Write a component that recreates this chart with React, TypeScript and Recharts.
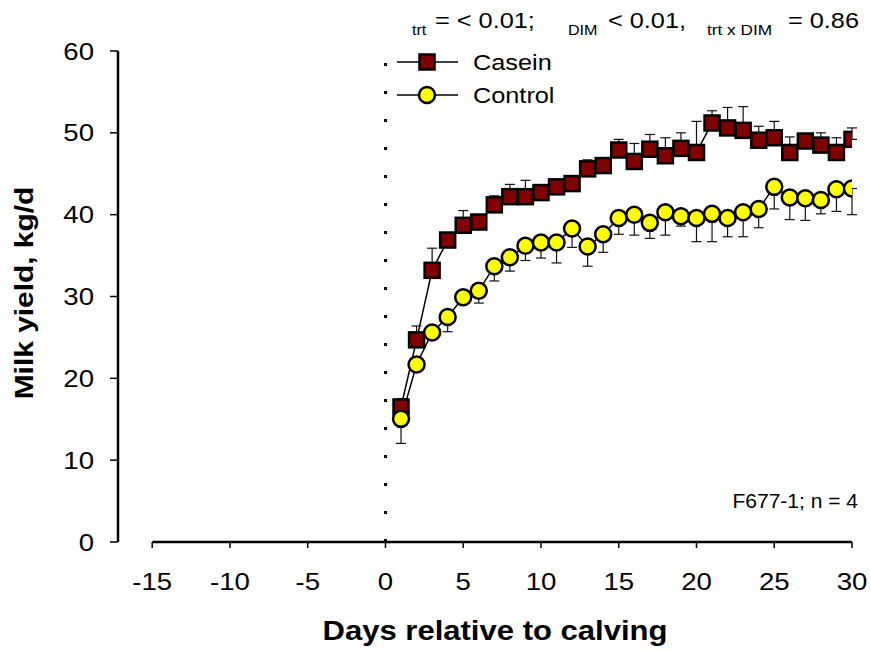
import React from 'react';
import {
  ComposedChart,
  Line,
  XAxis,
  YAxis,
  ErrorBar,
  ReferenceLine,
} from 'recharts';

// Días posparto y rendimiento de leche (kg/d)
const days = [
  1, 2, 3, 4, 5, 6, 7, 8, 9, 10, 11, 12, 13, 14, 15,
  16, 17, 18, 19, 20, 21, 22, 23, 24, 25, 26, 27, 28, 29, 30,
];
const casein = [
  16.5, 24.7, 33.2, 36.9, 38.7, 39.1, 41.2, 42.2, 42.2, 42.7, 43.4, 43.8, 45.6, 46.0, 47.9,
  46.5, 48.0, 47.2, 48.1, 47.6, 51.2, 50.6, 50.3, 49.1, 49.4, 47.6, 49.0, 48.5, 47.6, 49.2,
];
const caseinErr = [
  1.0, 1.7, 2.7, 0.5, 1.8, 0.5, 1.1, 1.5, 2.0, 0.3, 0.3, 0.3, 1.1, 0.3, 1.3,
  2.2, 1.8, 2.2, 1.9, 3.8, 1.5, 2.5, 2.9, 1.7, 2.0, 1.9, 0.5, 1.5, 1.8, 1.4,
];
const control = [
  15.05, 21.7, 25.6, 27.5, 29.9, 30.7, 33.7, 34.8, 36.2, 36.6, 36.6, 38.3, 36.1, 37.6, 39.6,
  40.0, 39.0, 40.3, 39.8, 39.6, 40.1, 39.6, 40.3, 40.7, 43.4, 42.1, 42.0, 41.8, 43.1, 43.2,
];
const controlErr = [
  3.0, 0.5, 0.5, 1.8, 0.5, 1.5, 1.8, 1.7, 1.8, 1.9, 2.5, 2.3, 2.4, 2.2, 2.0,
  2.5, 1.9, 2.8, 1.2, 2.9, 3.4, 2.3, 3.0, 2.3, 2.7, 2.7, 2.7, 1.7, 2.7, 3.2,
];
const xTicks = [-15, -10, -5, 0, 5, 10, 15, 20, 25, 30];
const yTicks = [0, 10, 20, 30, 40, 50, 60];

const chartData = days.map((day, i) => ({
  day,
  casein: casein[i],
  caseinBar: [0, caseinErr[i]],
  control: control[i],
  controlBar: [controlErr[i], 0],
}));

const FONT = "Arial, 'Liberation Sans', sans-serif";
const SX = 1.15; // el texto del original está algo ensanchado

const Txt = ({ x, y, size, bold = false, anchor = 'start', rotate = false, sx = SX, children }: any) => (
  <text
    transform={`translate(${x},${y})${rotate ? ' rotate(-90)' : ''} scale(${sx},1)`}
    fontSize={size}
    fontWeight={bold ? 'bold' : 'normal'}
    textAnchor={anchor}
    fontFamily={FONT}
    fill="#000"
  >
    {children}
  </text>
);

const XTick = ({ x, y, payload }: any) => (
  <Txt x={x} y={y + 40} size={24} anchor="middle">
    {payload.value}
  </Txt>
);

const YTick = ({ x, y, payload }: any) => (
  <Txt x={x} y={y + 8.5} size={24} anchor="end">
    {payload.value}
  </Txt>
);

const SquareDot = ({ cx, cy, index }: any) => (
  <rect
    key={`sq-${index}`}
    x={cx - 7.5}
    y={cy - 7.5}
    width={15}
    height={15}
    fill="#800000"
    stroke="#000"
    strokeWidth={2.5}
  />
);

export default function App() {
  return (
    <div style={{ position: 'absolute', left: 0, top: 0, width: 871, height: 650 }}>
      <ComposedChart
        width={871}
        height={650}
        data={chartData}
        margin={{ top: 51, right: 19, left: 18, bottom: 48 }}
      >
        <XAxis
          dataKey="day"
          type="number"
          domain={[-17.2, 30]}
          ticks={xTicks}
          interval={0}
          allowDataOverflow
          height={60}
          axisLine={false}
          tickLine={{ stroke: '#000', strokeWidth: 1.5 }}
          tickSize={6}
          tick={<XTick />}
        />
        <YAxis
          type="number"
          domain={[0, 60]}
          ticks={yTicks}
          interval={0}
          width={100}
          axisLine={{ stroke: '#000', strokeWidth: 2.5 }}
          tickLine={{ stroke: '#000', strokeWidth: 1.5 }}
          tickSize={8}
          tickMargin={16}
          tick={<YTick />}
        />
        <ReferenceLine
          x={0}
          stroke="#000"
          strokeWidth={3}
          strokeDasharray="3 25"
        />
        <ReferenceLine
          segment={[{ x: -15, y: 0 }, { x: 30, y: 0 }]}
          stroke="#000"
          strokeWidth={2.5}
        />
        <Line
          dataKey="casein"
          name="Casein"
          stroke="#000"
          strokeWidth={1.5}
          dot={SquareDot}
          activeDot={false}
          isAnimationActive={false}
        >
          <ErrorBar dataKey="caseinBar" direction="y" width={5} stroke="#111" strokeWidth={1.2} />
        </Line>
        <Line
          dataKey="control"
          name="Control"
          stroke="#000"
          strokeWidth={1.5}
          dot={{ r: 8, fill: '#FFFF00', stroke: '#000', strokeWidth: 2.5 }}
          activeDot={false}
          isAnimationActive={false}
        >
          <ErrorBar dataKey="controlBar" direction="y" width={5} stroke="#111" strokeWidth={1.2} />
        </Line>
      </ComposedChart>
      <svg
        width={871}
        height={650}
        style={{ position: 'absolute', left: 0, top: 0, pointerEvents: 'none' }}
      >
        {/* leyenda */}
        <g transform="translate(390,48)">
          <line x1={7} x2={68} y1={14} y2={14} stroke="#000" strokeWidth={1.5} />
          <rect x={29.5} y={6.5} width={15} height={15} fill="#800000" stroke="#000" strokeWidth={2.5} />
          <Txt x={83} y={22} size={22}>Casein</Txt>
          <line x1={7} x2={68} y1={47} y2={47} stroke="#000" strokeWidth={1.5} />
          <circle cx={37} cy={47} r={8} fill="#FFFF00" stroke="#000" strokeWidth={2.5} />
          <Txt x={83} y={55} size={22}>Control</Txt>
        </g>
        <Txt x={412} y={35} size={14}>trt</Txt>
        <Txt x={435} y={28} size={22}>= &lt; 0.01;</Txt>
        <Txt x={568} y={35} size={14}>DIM</Txt>
        <Txt x={608} y={28} size={22}>&lt; 0.01,</Txt>
        <Txt x={707} y={35} size={15}>trt x DIM</Txt>
        <Txt x={788} y={28} size={22}>= 0.86</Txt>
        <Txt x={858} y={508} size={21} sx={1} anchor="end">F677-1; n = 4</Txt>
        <Txt x={33} y={293} size={26} bold anchor="middle" rotate>Milk yield, kg/d</Txt>
        <Txt x={495} y={640} size={27} bold anchor="middle">Days relative to calving</Txt>
      </svg>
    </div>
  );
}
